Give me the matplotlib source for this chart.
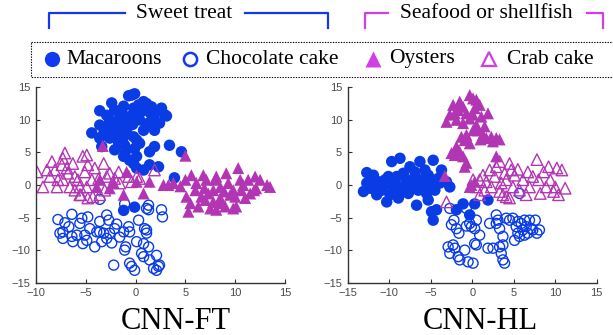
import numpy as np
import matplotlib
matplotlib.use("Agg")
import matplotlib.pyplot as plt
from matplotlib.patches import Rectangle

# ---- data (t-SNE coordinates) ----
FT_MACAROONS = [
    (-0.4, 13.8), (-0.1, 14.0), (-0.7, 13.7), (-2.4, 12.6), (-3.6, 11.4), (-2.1, 11.5),
    (-1.2, 12.1), (0.8, 12.8), (1.1, 12.5), (1.6, 12.0), (2.1, 11.3), (2.9, 10.8),
    (3.1, 10.6), (2.4, 9.5), (1.8, 10.5), (1.3, 9.5), (0.8, 8.4), (0.4, 10.0),
    (0.1, 11.0), (-0.2, 11.8), (-0.6, 10.5), (-1.1, 10.0), (-1.6, 10.8), (-1.9, 9.7),
    (-2.6, 10.0), (-2.9, 9.0), (-3.6, 9.2), (-3.2, 7.9), (-4.4, 8.0), (-3.6, 7.2),
    (-3.4, 5.9), (-2.6, 7.2), (-1.9, 7.9), (-1.2, 7.4), (-1.7, 6.4), (-1.1, 6.1),
    (-2.1, 5.4), (-1.2, 4.4), (-0.6, 3.8), (-0.2, 3.3), (0.1, 4.4), (-0.1, 5.6),
    (0.1, 6.9), (-0.2, 7.4), (0.4, 6.4), (0.8, 2.3), (0.1, 2.6), (1.4, 5.1),
    (1.9, 5.9), (1.4, 3.1), (2.3, 2.8), (3.4, 6.1), (4.6, 5.1), (3.9, 1.1),
    (-0.1, -3.4), (-1.2, -3.9), (1.1, 9.0), (1.9, 8.4), (0.6, 11.3), (-1.6, 9.0),
    (-0.9, 8.4), (-2.9, 10.7), (-1.4, 11.3), (0.3, 12.3), (1.5, 11.0), (-0.3, 9.3),
    (-2.3, 8.5), (-1.0, 5.2), (2.6, 11.8),
]
FT_CHOCOLATE = [
    (-3.6, -2.2), (-7.8, -5.3), (-6.4, -4.5), (-7.1, -5.8), (-7.3, -7.2), (-7.3, -8.2),
    (-6.7, -6.4), (-6.4, -7.9), (-6.3, -8.7), (-5.9, -7.7), (-5.6, -5.9), (-5.4, -5.1),
    (-5.3, -9.0), (-5.1, -7.7), (-4.6, -6.7), (-4.1, -9.5), (-3.9, -7.2), (-3.6, -5.6),
    (-3.6, -7.2), (-3.4, -8.7), (-3.2, -7.4), (-2.9, -4.6), (-2.7, -5.4), (-2.6, -7.4),
    (-2.4, -8.9), (-2.2, -12.3), (-1.9, -6.0), (-1.6, -8.0), (-1.2, -7.2), (-1.1, -10.0),
    (-1.0, -9.5), (-1.1, -2.9), (-0.7, -6.4), (-0.6, -7.2), (-0.6, -12.0), (-0.4, -12.5),
    (-0.1, -13.1), (0.1, -8.7), (0.3, -5.4), (0.6, -10.5), (0.8, -9.0), (0.8, -11.0),
    (0.9, -6.7), (1.1, -7.4), (1.1, -3.6), (1.3, -3.1), (1.3, -3.8), (1.3, -9.5),
    (1.4, -11.5), (1.8, -12.8), (2.1, -13.1), (2.3, -12.5), (2.4, -12.3), (2.1, -10.8),
    (2.6, -3.8), (2.7, -4.9), (1.1, -6.9), (-7.6, -7.4), (-4.9, -8.5), (-2.9, -8.2),
    (-2.1, -6.7), (-4.8, -4.9),
]
FT_OYSTERS = [
    (-3.3, 6.0), (5.0, 4.5), (2.8, 0.0), (3.3, 0.0), (3.8, 0.3), (4.5, -0.2),
    (5.6, 1.5), (5.1, -1.8), (5.5, -2.8), (5.3, -4.1), (6.0, -0.8), (6.3, -3.3),
    (6.8, 1.5), (7.1, 0.8), (7.3, -1.3), (7.0, -2.3), (7.5, -3.6), (8.0, 0.8),
    (8.1, 1.3), (8.5, -0.3), (8.5, -2.0), (9.1, 1.8), (9.3, 0.3), (9.5, -1.5),
    (9.8, -3.6), (10.3, 2.6), (10.5, 0.8), (10.6, -0.8), (11.0, -2.0), (11.3, 0.8),
    (11.5, -1.3), (12.1, -0.5), (12.5, 0.8), (13.2, 0.0), (13.5, -0.3), (12.0, 1.3),
    (10.1, -3.3), (9.0, -3.3), (8.1, -3.8), (6.6, -1.8), (6.1, 0.3), (5.0, 0.8),
    (7.8, -0.8), (10.8, 0.0), (9.8, -0.8), (1.4, 0.5), (0.8, -1.3), (0.1, 0.5),
    (-0.9, 2.0), (-1.2, -1.5), (-3.6, 0.8), (-3.9, -0.3), (-2.2, 0.3), (-2.6, -0.5),
    (8.5, -2.8), (6.9, -0.5), (8.9, -1.0), (10.0, -1.8), (7.8, -2.6), (11.9, -0.8),
]
FT_CRAB = [
    (-9.9, 2.0), (-9.3, -0.3), (-8.4, 3.6), (-8.1, 2.3), (-7.8, 0.8), (-7.4, 3.1),
    (-7.1, 4.9), (-7.3, 4.1), (-6.8, 1.8), (-6.6, -0.3), (-6.3, 3.3), (-5.8, 0.8),
    (-5.6, -1.5), (-5.3, 4.4), (-4.9, 4.6), (-5.1, 2.0), (-4.8, 3.1), (-4.4, 0.8),
    (-4.3, -1.8), (-4.1, 2.6), (-8.6, 1.3), (-7.9, -0.3), (-7.3, 0.8), (-6.1, -0.8),
    (-5.5, -1.5), (-4.8, -2.0), (-3.7, 1.0), (-3.2, 3.3), (-2.9, 1.3), (-2.6, 1.8),
    (-3.1, -0.8), (-2.1, 1.0), (-1.7, 2.0), (-1.6, 0.3), (-0.7, 1.3), (-0.4, 0.5),
    (0.1, 1.3), (0.4, 1.0), (1.9, 2.3), (-5.6, -0.3), (-6.9, 2.6), (-8.9, 2.3),
    (-4.9, -0.3), (-3.6, -1.5), (-6.1, 1.3),
]

HL_MACAROONS = [
    (-12.7, 1.9), (-13.1, -1.0), (-12.7, 0.3), (-12.1, 0.8), (-11.9, 1.5), (-11.7, -0.3),
    (-11.3, 0.5), (-10.9, -0.8), (-10.5, 0.8), (-10.3, -2.6), (-9.9, -1.5), (-9.7, 3.6),
    (-9.5, -0.3), (-9.1, 1.3), (-8.9, -2.0), (-8.7, 4.1), (-8.5, -0.3), (-8.3, 1.8),
    (-7.9, 0.8), (-7.7, -1.3), (-7.5, 2.8), (-7.1, 0.3), (-6.9, 2.0), (-6.7, -3.1),
    (-6.5, -0.8), (-6.3, 3.6), (-6.1, 0.8), (-5.9, -0.3), (-5.7, 2.3), (-5.5, -1.3),
    (-5.3, -2.3), (-5.1, 0.8), (-4.9, -4.1), (-4.7, 3.8), (-4.7, -5.4), (-4.5, -0.8),
    (-4.3, -3.8), (-4.1, 1.0), (-3.9, 0.3), (-3.7, 2.3), (-3.1, 0.5), (-2.7, -0.3),
    (-10.7, -0.3), (-11.5, -1.5), (-7.5, -0.8), (-8.7, -1.3), (-10.1, 1.3), (-1.9, -3.8),
    (-1.1, -2.9), (-0.3, -4.6), (0.3, -2.9), (1.9, -2.3), (-6.9, 1.3), (-5.3, 1.5),
    (-12.3, -0.5), (-9.3, 0.5), (-7.3, -0.2), (-5.0, -0.5), (-8.1, -0.9),
]
HL_CHOCOLATE = [
    (-2.7, -3.6), (-2.2, -5.4), (-2.5, -6.1), (-1.9, -6.7), (-1.6, -7.4), (-2.9, -9.5),
    (-2.7, -10.5), (-2.3, -9.2), (-2.1, -9.7), (-1.7, -11.0), (-1.5, -11.5), (-0.9, -10.0),
    (-0.7, -3.6), (-0.7, -6.3), (-0.5, -11.8), (-0.3, -5.9), (-0.1, -6.4), (0.1, -12.0),
    (0.3, -6.7), (0.3, -9.0), (0.5, -5.4), (0.5, -9.2), (0.9, -7.7), (2.1, -5.9),
    (1.9, -9.7), (2.5, -9.7), (2.9, -4.6), (3.1, -5.4), (3.3, -9.5), (3.5, -10.5),
    (3.7, -7.9), (3.7, -11.5), (3.9, -12.0), (3.7, -9.2), (4.1, -5.1), (4.5, -5.4),
    (4.9, -5.1), (5.1, -8.5), (5.3, -6.4), (5.5, -7.4), (5.7, -7.9), (5.7, -1.3),
    (5.9, -5.9), (6.1, -6.9), (6.3, -5.4), (6.5, -6.4), (6.7, -7.4), (6.9, -5.4),
    (7.1, -6.7), (7.3, -6.9), (7.6, -5.4), (7.8, -7.4), (8.1, -6.9), (5.5, -5.6),
    (6.3, -7.7), (2.9, -5.9), (3.3, -6.7),
]
HL_OYSTERS = [
    (-3.3, 1.4), (-0.3, 13.8), (0.1, 13.3), (0.5, 13.1), (0.9, 12.3), (-2.3, 12.3),
    (-1.7, 11.5), (-1.1, 12.0), (-0.7, 11.0), (-0.3, 10.2), (0.1, 10.8), (1.1, 10.5),
    (1.9, 11.0), (-3.1, 9.7), (-2.7, 10.8), (-1.9, 10.0), (-1.1, 9.5), (0.5, 9.2),
    (0.7, 8.4), (1.3, 7.7), (1.7, 7.2), (2.3, 7.4), (2.9, 7.2), (3.3, 7.0),
    (2.5, 6.7), (-0.7, 7.7), (-0.9, 6.9), (-0.3, 6.4), (-1.9, 5.9), (-1.5, 5.1),
    (-2.1, 4.6), (-1.1, 4.4), (-0.9, 2.8), (-0.7, 3.4), (2.9, 4.4), (-0.1, 0.0),
    (0.3, 0.5), (-0.3, -0.3), (-1.9, 5.4), (-2.5, 4.9), (0.1, 8.4), (1.5, 9.0),
    (-1.5, 12.8), (0.3, 11.8), (-2.1, 11.0), (1.0, 7.0), (-1.3, 7.4),
]
HL_CRAB = [
    (-3.1, -2.6), (0.1, 0.8), (0.5, -0.3), (0.9, 0.8), (1.3, 1.5), (1.7, 0.5),
    (2.1, 2.3), (2.3, -0.3), (2.7, 1.3), (2.9, 2.8), (3.3, 3.6), (3.5, 0.3),
    (3.7, -1.5), (3.9, 1.8), (4.1, 0.8), (4.5, 3.3), (4.7, 2.3), (4.9, -0.3),
    (5.1, 1.5), (5.5, 2.4), (5.7, -0.8), (6.1, 0.8), (6.5, -1.5), (6.7, 2.0),
    (6.9, -0.3), (7.3, 1.3), (7.8, 3.9), (8.0, 0.8), (8.2, -1.3), (8.6, 2.0),
    (8.9, -0.3), (9.2, 2.8), (9.4, 0.8), (9.8, -1.0), (10.2, 2.6), (10.4, -1.5),
    (10.8, 2.3), (11.2, -0.5), (1.5, -0.8), (4.1, -1.8), (4.5, -2.0), (0.9, -1.5),
    (10.0, -0.3), (3.3, -1.0),
]

PANEL_TITLES = ["CNN-FT", "CNN-HL"]
PANEL_XTICKS = [[-10, -5, 0, 5, 10, 15], [-15, -10, -5, 0, 5, 10, 15]]
YTICKS = [-15, -10, -5, 0, 5, 10, 15]
LEGEND_LABELS = ["Macaroons", "Chocolate cake", "Oysters", "Crab cake"]
GROUP_LABELS = ["Sweet treat", "Seafood or shellfish"]

BLUE = "#0a3ce6"
PURPLE = "#b236b4"
LEG_BLUE = "#1238f0"
LEG_PURPLE = "#d23ee6"

W, H = 613, 335
fig = plt.figure(figsize=(W / 100, H / 100), dpi=100)


def px_rect(x0, x1, y0, y1):
    # pixel box -> figure fraction
    return [x0 / W, 1 - y1 / H, (x1 - x0) / W, (y1 - y0) / H]


panels = [
    (px_rect(36, 285, 87.3, 282.7), FT_MACAROONS, FT_CHOCOLATE, FT_OYSTERS, FT_CRAB),
    (px_rect(347.7, 596.7, 87.3, 282.7), HL_MACAROONS, HL_CHOCOLATE, HL_OYSTERS, HL_CRAB),
]
title_x = [176, 480]

for i, (rect, mac, choc, oys, crab) in enumerate(panels):
    ax = fig.add_axes(rect)
    choc = np.array(choc)
    mac = np.array(mac)
    crab = np.array(crab)
    oys = np.array(oys)
    ax.scatter(choc[:, 0], choc[:, 1], s=52, facecolors="none", edgecolors=BLUE, linewidths=1.0)
    ax.scatter(mac[:, 0], mac[:, 1], s=68, color=BLUE, edgecolors="none")
    ax.scatter(crab[:, 0], crab[:, 1], s=68, marker="^", facecolors="none",
               edgecolors=PURPLE, linewidths=1.0)
    ax.scatter(oys[:, 0], oys[:, 1], s=75, marker="^", color=PURPLE, edgecolors="none")

    xt = PANEL_XTICKS[i]
    ax.set_xlim(xt[0], xt[-1])
    ax.set_ylim(-15, 15)
    ax.set_xticks(xt)
    ax.set_yticks(YTICKS)
    for side in ("top", "right"):
        ax.spines[side].set_visible(False)
    for side in ("left", "bottom"):
        ax.spines[side].set_color("#333333")
        ax.spines[side].set_linewidth(1.0)
    ax.tick_params(direction="in", length=3, width=0.8, color="#333333",
                   labelsize=8, labelcolor="#4a4a4a", pad=4)
    for lab in ax.get_xticklabels() + ax.get_yticklabels():
        lab.set_family("Liberation Sans")

    fig.text(title_x[i] / W, 1 - 329 / H, PANEL_TITLES[i], ha="center",
             va="baseline", family="Liberation Serif", fontsize=22)

# ---- overlay for legend and group brackets (pixel coordinates) ----
ov = fig.add_axes([0, 0, 1, 1])
ov.set_xlim(0, W)
ov.set_ylim(H, 0)
ov.axis("off")

ov.add_patch(Rectangle((31, 41.5), 600, 35.5, fill=False, edgecolor="black",
                       linestyle=(0, (1.2, 1.2)), linewidth=0.8))

ly = 59
serif = dict(family="Liberation Serif", fontsize=15.5, va="center", ha="left")
ov.plot(52, ly, "o", ms=11, color=LEG_BLUE, mec="none")
ov.text(66, ly, LEGEND_LABELS[0], **serif)
ov.plot(190, ly, "o", ms=9.5, mfc="none", mec=LEG_BLUE, mew=1.8)
ov.text(206, ly, LEGEND_LABELS[1], **serif)
ov.plot(373, ly, "^", ms=11, color=LEG_PURPLE, mec="none")
ov.text(389, ly, LEGEND_LABELS[2], **serif)
ov.plot(489, ly, "^", ms=10, mfc="none", mec=LEG_PURPLE, mew=1.6)
ov.text(507, ly, LEGEND_LABELS[3], **serif)

# group brackets
by, bb = 13, 28
ov.plot([49, 49, 125], [bb, by, by], color=LEG_BLUE, lw=1.6)
ov.plot([245, 328, 328], [by, by, bb], color=LEG_BLUE, lw=1.6)
ov.text(184, by, GROUP_LABELS[0], family="Liberation Serif", fontsize=15.5,
        ha="center", va="center")
ov.plot([365, 365, 388], [bb, by, by], color=LEG_PURPLE, lw=1.6)
ov.plot([587, 603, 603], [by, by, bb], color=LEG_PURPLE, lw=1.6)
ov.text(486, by, GROUP_LABELS[1], family="Liberation Serif", fontsize=15.5,
        ha="center", va="center")

fig.savefig("out.png", dpi=100)
